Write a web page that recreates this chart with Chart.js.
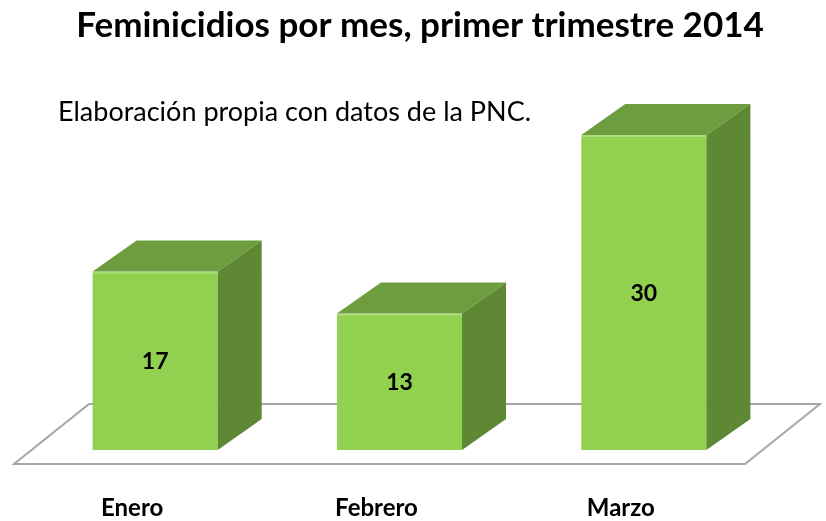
<!DOCTYPE html>
<html>
<head>
<meta charset="utf-8">
<script src="https://cdn.jsdelivr.net/npm/chart.js@4/dist/chart.umd.min.js"></script>
<style>
  html, body { margin: 0; padding: 0; background: #ffffff; }
  #wrap { width: 826px; height: 521px; }
</style>
</head>
<body>
<div id="wrap"><canvas id="c" width="826" height="521"></canvas></div>
<script>
const titleText = 'Feminicidios por mes, primer trimestre 2014';
const subtitleText = 'Elaboración propia con datos de la PNC.';
const categories = ['Enero', 'Febrero', 'Marzo'];
const values = [17, 13, 30];

const FRONT = '#92D050';
const TOP = '#6E9D3F';
const SIDE = '#5E8834';
const DEPTH_X = 44, DEPTH_Y = 31;

const floorPlugin = {
  id: 'floor',
  beforeDatasetsDraw(chart) {
    const ctx = chart.ctx;
    const area = chart.chartArea;
    const y0 = chart.scales.y.getPixelForValue(0);
    const fl = area.left - 19, fr = area.right - 21;
    const fy = y0 + 14, by = y0 - 46, dx = 75;
    ctx.save();
    ctx.beginPath();
    ctx.moveTo(fl, fy);
    ctx.lineTo(fl + dx, by);
    ctx.lineTo(fr + dx, by);
    ctx.lineTo(fr, fy);
    ctx.closePath();
    ctx.fillStyle = '#ffffff';
    ctx.fill();
    ctx.strokeStyle = '#A6A6A6';
    ctx.lineWidth = 2;
    ctx.stroke();
    ctx.restore();
  }
};

const facesPlugin = {
  id: 'faces',
  afterDatasetsDraw(chart) {
    const ctx = chart.ctx;
    const meta = chart.getDatasetMeta(0);
    ctx.save();
    meta.data.forEach((bar, i) => {
      const p = bar.getProps(['x', 'y', 'base', 'width'], true);
      const l = p.x - p.width / 2, r = p.x + p.width / 2;
      const t = p.y, b = p.base;
      // top face
      ctx.beginPath();
      ctx.moveTo(l, t);
      ctx.lineTo(l + DEPTH_X, t - DEPTH_Y);
      ctx.lineTo(r + DEPTH_X, t - DEPTH_Y);
      ctx.lineTo(r, t);
      ctx.closePath();
      ctx.fillStyle = TOP;
      ctx.fill();
      // side face
      ctx.beginPath();
      ctx.moveTo(r, t);
      ctx.lineTo(r + DEPTH_X, t - DEPTH_Y);
      ctx.lineTo(r + DEPTH_X, b - DEPTH_Y);
      ctx.lineTo(r, b);
      ctx.closePath();
      ctx.fillStyle = SIDE;
      ctx.fill();
      // highlight on front top edge
      ctx.fillStyle = 'rgba(255,255,255,0.25)';
      ctx.fillRect(l, t, p.width, 2);
      // value label
      ctx.fillStyle = '#000000';
      ctx.font = 'bold 23px Lato';
      ctx.textAlign = 'center';
      ctx.textBaseline = 'middle';
      ctx.fillText(String(values[i]), p.x, (t + b) / 2 + 1);
    });
    ctx.restore();
  }
};

const textPlugin = {
  id: 'texts',
  afterDraw(chart) {
    const ctx = chart.ctx;
    ctx.save();
    ctx.fillStyle = '#000000';
    ctx.textBaseline = 'middle';
    ctx.font = 'bold 35px Lato';
    ctx.textAlign = 'center';
    ctx.fillText(titleText, 420, 26);
    ctx.font = '27px Lato';
    ctx.textAlign = 'left';
    ctx.fillText(subtitleText, 58, 112);
    ctx.restore();
  }
};

new Chart(document.getElementById('c'), {
  type: 'bar',
  data: {
    labels: categories,
    datasets: [{
      data: values,
      backgroundColor: FRONT,
      borderWidth: 0,
      barPercentage: 0.8,
      categoryPercentage: 0.64
    }]
  },
  options: {
    responsive: false,
    animation: false,
    events: [],
    layout: { padding: { left: 33, right: 60, top: 82.5, bottom: 0 } },
    plugins: {
      legend: { display: false },
      tooltip: { enabled: false },
      title: { display: false }
    },
    scales: {
      x: {
        grid: { display: false, drawTicks: false },
        border: { display: false },
        afterFit(scale) { scale.height = 71; },
        ticks: {
          color: '#000000',
          font: { family: 'Lato', size: 24, weight: 'bold', lineHeight: 1 },
          padding: 46,
          labelOffset: -23,
          maxRotation: 0,
          autoSkip: false
        }
      },
      y: {
        display: false,
        min: 0,
        max: 35
      }
    }
  },
  plugins: [floorPlugin, facesPlugin, textPlugin]
});
</script>
</body>
</html>
